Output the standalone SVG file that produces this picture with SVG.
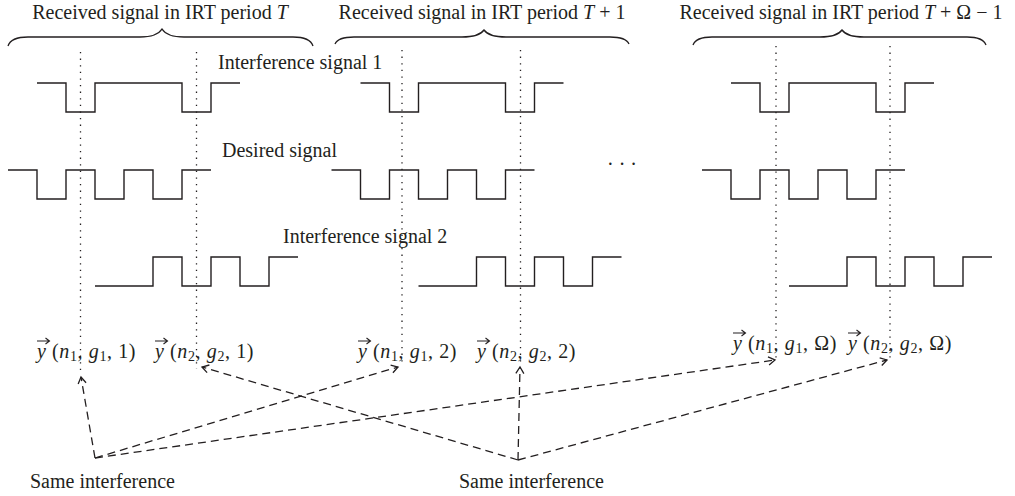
<svg xmlns="http://www.w3.org/2000/svg" xmlns:xlink="http://www.w3.org/1999/xlink" width="1015" height="496" viewBox="0 0 1015 496">
<style>
text{font-family:"Liberation Serif","Times New Roman",serif;font-size:20px;fill:#231f20}
.it{font-style:italic}
.sub{font-size:14px}
.lbl{letter-spacing:0.6px}
.sig{fill:none;stroke:#231f20;stroke-width:1.4}
.brace{fill:none;stroke:#231f20;stroke-width:1.3}
.dot{stroke:#231f20;stroke-width:1.3;stroke-dasharray:1.3 5.3}
.conn{fill:none;stroke:#231f20;stroke-width:1.3;stroke-dasharray:8 5}
.vec{fill:none;stroke:#231f20;stroke-width:1.1}
</style>
<defs>
<marker id="ah" markerUnits="userSpaceOnUse" markerWidth="14" markerHeight="14" refX="0" refY="0" viewBox="-8 -7 10 14" orient="auto">
<path d="M-6.5,-4 L0,0 L-6.5,4" fill="none" stroke="#231f20" stroke-width="1.3"/>
</marker>
<polyline id="int1" class="sig" points="37,83 66,83 66,112 95,112 95,83 182,83 182,112 211,112 211,83 240,83"/>
<polyline id="des" class="sig" points="8,170 37,170 37,199 66,199 66,170 95,170 95,199 124,199 124,170 153,170 153,199 182,199 182,170 211,170"/>
<polyline id="int2" class="sig" points="95,286 153,286 153,257 182,257 182,286 211,286 211,257 240,257 240,286 269,286 269,257 298,257"/>
</defs>

<g id="period-T">
<text x="160" y="19" text-anchor="middle">Received signal in IRT period <tspan class="it">T</tspan></text>
<path class="brace" d="M8,46 Q11,37 28,37 L140,37 Q157,37 162,29 Q167,37 184,37 L293,37 Q310,37 313,46"/>
<use xlink:href="#int1"/>
<use xlink:href="#des"/>
<use xlink:href="#int2"/>
<line class="dot" x1="80.5" y1="52" x2="80.5" y2="370"/>
<line class="dot" x1="196.5" y1="52" x2="196.5" y2="369"/>
</g>

<g id="period-T1" >
<text x="482" y="19" text-anchor="middle">Received signal in IRT period <tspan class="it">T</tspan> + 1</text>
<path class="brace" d="M335,44 Q338,37 354,37 L462,37 Q479,37 484,30 Q489,37 506,37 L610,37 Q626,37 629,44"/>
<use xlink:href="#int1" transform="translate(323.5,0)"/>
<use xlink:href="#des" transform="translate(323.5,0)"/>
<use xlink:href="#int2" transform="translate(323.5,0)"/>
<line class="dot" x1="402" y1="50" x2="402" y2="366"/>
<line class="dot" x1="520.5" y1="50" x2="520.5" y2="364"/>
</g>

<g id="period-TO">
<text x="841" y="19" text-anchor="middle">Received signal in IRT period <tspan class="it">T</tspan> + Ω − 1</text>
<path class="brace" d="M693,45 Q696,37 712,37 L820,37 Q837,37 842,30 Q847,37 864,37 L967,37 Q983,37 986,45"/>
<use xlink:href="#int1" transform="translate(694,0)"/>
<use xlink:href="#des" transform="translate(694,0)"/>
<use xlink:href="#int2" transform="translate(694,0)"/>
<line class="dot" x1="776" y1="46" x2="776" y2="358"/>
<line class="dot" x1="890" y1="46" x2="890" y2="358"/>
</g>

<g id="signal-labels">
<text x="218" y="69">Interference signal 1</text>
<text x="222" y="157">Desired signal</text>
<text x="283" y="243">Interference signal 2</text>
<text x="607" y="171">· · ·</text>
</g>

<g id="y-n1-g1-1">
<path class="vec" d="M37,341 H49 M45.5,338 L49.5,341 L45.5,344"/>
<text class="lbl" x="37" y="358"><tspan class="it">y</tspan> (<tspan class="it">n</tspan><tspan class="sub" dy="3">1</tspan><tspan dy="-3">, </tspan><tspan class="it">g</tspan><tspan class="sub" dy="3">1</tspan><tspan dy="-3">, 1)</tspan></text>
</g>
<g id="y-n2-g2-1">
<path class="vec" d="M155,341 H167 M163.5,338 L167.5,341 L163.5,344"/>
<text class="lbl" x="155" y="358"><tspan class="it">y</tspan> (<tspan class="it">n</tspan><tspan class="sub" dy="3">2</tspan><tspan dy="-3">, </tspan><tspan class="it">g</tspan><tspan class="sub" dy="3">2</tspan><tspan dy="-3">, 1)</tspan></text>
</g>
<g id="y-n1-g1-2">
<path class="vec" d="M358,341 H370 M366.5,338 L370.5,341 L366.5,344"/>
<text class="lbl" x="358" y="358"><tspan class="it">y</tspan> (<tspan class="it">n</tspan><tspan class="sub" dy="3">1</tspan><tspan dy="-3">, </tspan><tspan class="it">g</tspan><tspan class="sub" dy="3">1</tspan><tspan dy="-3">, 2)</tspan></text>
</g>
<g id="y-n2-g2-2">
<path class="vec" d="M477,341 H489 M485.5,338 L489.5,341 L485.5,344"/>
<text class="lbl" x="477" y="358"><tspan class="it">y</tspan> (<tspan class="it">n</tspan><tspan class="sub" dy="3">2</tspan><tspan dy="-3">, </tspan><tspan class="it">g</tspan><tspan class="sub" dy="3">2</tspan><tspan dy="-3">, 2)</tspan></text>
</g>
<g id="y-n1-g1-O">
<path class="vec" d="M733,333 H745 M741.5,330 L745.5,333 L741.5,336"/>
<text class="lbl" x="733" y="350"><tspan class="it">y</tspan> (<tspan class="it">n</tspan><tspan class="sub" dy="3">1</tspan><tspan dy="-3">, </tspan><tspan class="it">g</tspan><tspan class="sub" dy="3">1</tspan><tspan dy="-3">, Ω)</tspan></text>
</g>
<g id="y-n2-g2-O">
<path class="vec" d="M848,333 H860 M856.5,330 L860.5,333 L856.5,336"/>
<text class="lbl" x="848" y="350"><tspan class="it">y</tspan> (<tspan class="it">n</tspan><tspan class="sub" dy="3">2</tspan><tspan dy="-3">, </tspan><tspan class="it">g</tspan><tspan class="sub" dy="3">2</tspan><tspan dy="-3">, Ω)</tspan></text>
</g>

<g id="same-interference-1">
<text x="30" y="488">Same interference</text>
</g>
<g id="same-interference-2">
<text x="459" y="488">Same interference</text>
</g>

<g id="connectors">
<line class="conn" x1="95" y1="458" x2="81" y2="377" marker-end="url(#ah)"/>
<line class="conn" x1="95" y1="458" x2="398" y2="367" marker-end="url(#ah)"/>
<line class="conn" x1="95" y1="458" x2="775" y2="360" marker-end="url(#ah)"/>
<line class="conn" x1="518" y1="460" x2="202" y2="367" marker-end="url(#ah)"/>
<line class="conn" x1="518" y1="460" x2="520" y2="367" marker-end="url(#ah)"/>
<line class="conn" x1="518" y1="460" x2="887" y2="360" marker-end="url(#ah)"/>
</g>
</svg>
